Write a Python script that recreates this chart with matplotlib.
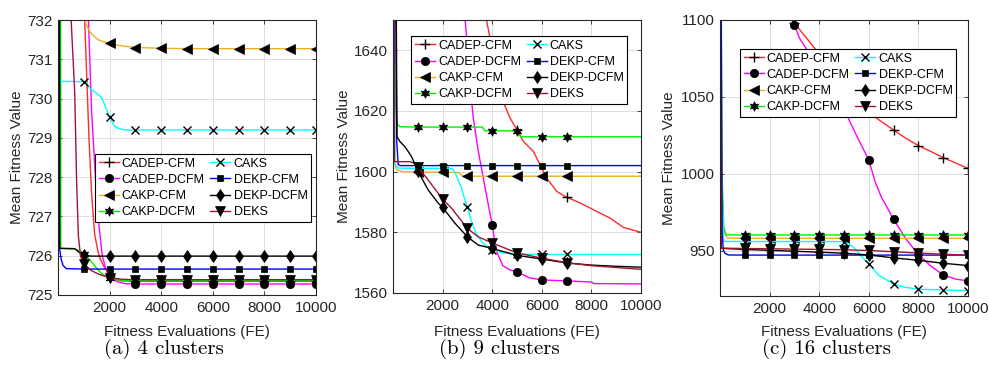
import matplotlib
matplotlib.use('Agg')
import matplotlib.pyplot as plt
from matplotlib.lines import Line2D

plt.rcParams['font.family'] = ['Liberation Sans', 'DejaVu Sans']

# ---------------- data ----------------
SERIES = ['CADEP-CFM', 'CADEP-DCFM', 'CAKP-CFM', 'CAKP-DCFM',
          'CAKS', 'DEKP-CFM', 'DEKP-DCFM', 'DEKS']
X_TICKS = [2000, 4000, 6000, 8000, 10000]
CAPTIONS = ['(a) 4 clusters', '(b) 9 clusters', '(c) 16 clusters']
MARK_MAX = [10000, 7000, 10000]

# ---- (a) 4 clusters ----
A_CADEP_CFM_X = [0, 900, 1000, 1034, 1100, 1200, 1300, 1420, 1550, 1650, 1800, 2000, 2200, 2500, 3000, 4000, 5000, 6000, 7000, 8000, 9000, 10000]
A_CADEP_CFM_Y = [760, 735, 732.5, 732.0, 730.8, 729.0, 727.6, 726.55, 726.1, 725.9, 725.7, 725.5, 725.4, 725.36, 725.35, 725.35, 725.35, 725.35, 725.35, 725.35, 725.35, 725.35]
A_CADEP_DCFM_X = [0, 1000, 1100, 1180, 1300, 1450, 1590, 1720, 1850, 1940, 2000, 2100, 2300, 2600, 3000, 4000, 5000, 6000, 7000, 8000, 9000, 10000]
A_CADEP_DCFM_Y = [760, 736, 733.5, 732.0, 729.7, 728.0, 726.75, 725.98, 725.68, 725.53, 725.48, 725.42, 725.34, 725.29, 725.28, 725.28, 725.28, 725.28, 725.28, 725.28, 725.28, 725.28]
A_CAKP_CFM_X = [0, 900, 1000, 1040, 1100, 1227, 1400, 1550, 1750, 2000, 2300, 2600, 3000, 4000, 5000, 6000, 7000, 8000, 9000, 10000]
A_CAKP_CFM_Y = [760, 735, 732.3, 732.0, 731.88, 731.71, 731.58, 731.5, 731.45, 731.41, 731.36, 731.33, 731.3, 731.28, 731.27, 731.27, 731.27, 731.27, 731.27, 731.27]
A_CAKP_DCFM_X = [0, 95, 110, 650, 904, 1000, 1100, 1292, 1500, 1680, 1900, 2000, 2300, 2600, 3000, 4000, 5000, 6000, 7000, 8000, 9000, 10000]
A_CAKP_DCFM_Y = [760, 740, 726.18, 726.17, 726.1, 726.05, 725.97, 725.85, 725.68, 725.55, 725.46, 725.43, 725.39, 725.37, 725.37, 725.37, 725.37, 725.37, 725.37, 725.37, 725.37, 725.37]
A_CAKS_X = [0, 20, 30, 1000, 1100, 1240, 1400, 1500, 1690, 1890, 2000, 2210, 2450, 2660, 3000, 4000, 5000, 6000, 7000, 8000, 9000, 10000]
A_CAKS_Y = [760, 745, 730.44, 730.43, 730.4, 730.26, 730.18, 730.13, 730.03, 729.71, 729.52, 729.28, 729.22, 729.2, 729.2, 729.2, 729.2, 729.2, 729.2, 729.2, 729.2, 729.2]
A_DEKP_CFM_X = [0, 35, 40, 130, 200, 325, 1000, 2000, 3000, 4000, 5000, 6000, 7000, 8000, 9000, 10000]
A_DEKP_CFM_Y = [760, 740, 726.25, 725.89, 725.75, 725.67, 725.66, 725.66, 725.66, 725.66, 725.66, 725.66, 725.66, 725.66, 725.66, 725.66]
A_DEKP_DCFM_X = [0, 55, 65, 646, 850, 1000, 1150, 1300, 2000, 3000, 4000, 5000, 6000, 7000, 8000, 9000, 10000]
A_DEKP_DCFM_Y = [760, 740, 726.19, 726.18, 726.07, 726.02, 726.0, 725.99, 725.99, 725.99, 725.99, 725.99, 725.99, 725.99, 725.99, 725.99, 725.99]
A_DEKS_X = [0, 400, 510, 648, 725, 790, 870, 1000, 1290, 1620, 2000, 2500, 3000, 4000, 5000, 6000, 7000, 8000, 9000, 10000]
A_DEKS_Y = [760, 734, 732.0, 730.15, 727.8, 726.5, 726.0, 725.8, 725.62, 725.52, 725.44, 725.4, 725.39, 725.39, 725.39, 725.39, 725.39, 725.39, 725.39, 725.39]

# ---- (b) 9 clusters ----
B_CADEP_CFM_X = [0, 1000, 2000, 3000, 3700, 3911, 4000, 4113, 4382, 4718, 5000, 5255, 5657, 5927, 6196, 6600, 7000, 7540, 8000, 8212, 8750, 9295, 10000]
B_CADEP_CFM_Y = [1900, 1800, 1730, 1685, 1653, 1644, 1640, 1634.1, 1624.3, 1617.7, 1613.8, 1610, 1606.7, 1602.3, 1597.9, 1593.5, 1591.6, 1589.7, 1587.8, 1586.9, 1584.7, 1581.6, 1580.0]
B_CADEP_DCFM_X = [0, 1000, 2000, 2903, 3000, 3105, 3238, 3440, 3641, 3843, 4000, 4161, 4431, 4720, 5000, 5500, 6000, 7000, 8000, 8100, 10000]
B_CADEP_DCFM_Y = [1900, 1800, 1720, 1650.6, 1641, 1628.6, 1617.7, 1606.7, 1597.9, 1589.1, 1582.5, 1574, 1569, 1567.6, 1567.0, 1565.0, 1564.3, 1564.0, 1563.6, 1563.1, 1563.0]
B_CAKP_CFM_X = [0, 20, 40, 150, 400, 1000, 2000, 2650, 2800, 3000, 4000, 5000, 6000, 7000, 8000, 9000, 10000]
B_CAKP_CFM_Y = [1900, 1640, 1603, 1600.6, 1600.0, 1599.9, 1599.8, 1599.7, 1598.6, 1598.5, 1598.5, 1598.5, 1598.5, 1598.5, 1598.5, 1598.5, 1598.5]
B_CAKP_DCFM_X = [0, 60, 100, 180, 300, 1000, 2000, 3000, 3600, 3700, 4000, 5000, 5050, 5150, 6000, 7000, 8000, 9000, 10000]
B_CAKP_DCFM_Y = [1900, 1650, 1622, 1615.5, 1614.8, 1614.7, 1614.7, 1614.7, 1614.7, 1613.5, 1613.5, 1613.4, 1612.5, 1611.5, 1611.5, 1611.5, 1611.5, 1611.5, 1611.5]
B_CAKS_X = [0, 40, 80, 200, 1000, 2000, 2405, 2513, 2743, 2945, 3000, 3148, 3351, 3620, 4000, 4431, 4971, 5000, 6000, 7000, 8000, 9000, 10000]
B_CAKS_Y = [1900, 1700, 1602.5, 1601.2, 1601.1, 1601.1, 1601.0, 1599.5, 1595, 1589.6, 1588.5, 1584, 1579.7, 1576.4, 1574.3, 1573.2, 1572.8, 1572.8, 1572.7, 1572.7, 1572.7, 1572.7, 1572.7]
B_DEKP_CFM_X = [0, 110, 150, 210, 300, 1000, 2000, 3000, 4000, 5000, 6000, 7000, 8000, 9000, 10000]
B_DEKP_CFM_Y = [1900, 1660, 1610, 1602.3, 1602.0, 1602.0, 1602.0, 1602.0, 1602.0, 1602.0, 1602.0, 1602.0, 1602.0, 1602.0, 1602.0]
B_DEKP_DCFM_X = [0, 100, 160, 282, 484, 753, 1000, 1424, 1827, 2000, 2500, 3000, 3440, 4000, 5000, 6000, 7000, 8000, 9000, 10000]
B_DEKP_DCFM_Y = [1900, 1700, 1611.5, 1609.9, 1608.2, 1604.9, 1600.2, 1593.9, 1589.6, 1588.2, 1583, 1578.5, 1575.8, 1574.7, 1572.4, 1571.2, 1569.9, 1569.2, 1568.8, 1568.5]
B_DEKS_X = [0, 40, 60, 685, 887, 1000, 1424, 1827, 2000, 2366, 2634, 3000, 3440, 4000, 5000, 6000, 7000, 8000, 9000, 10000]
B_DEKS_Y = [1900, 1700, 1603.3, 1603.3, 1602.7, 1601.6, 1597.2, 1592.8, 1591.0, 1587.9, 1585.1, 1581.3, 1578.5, 1576.5, 1573.2, 1571.5, 1570.0, 1569.0, 1568.4, 1567.8]

# ---- (c) 16 clusters ----
C_CADEP_CFM_X = [0, 1000, 2000, 2900, 3000, 3500, 4000, 4500, 5000, 5500, 6000, 6500, 7000, 7500, 8000, 8500, 9000, 9500, 10000]
C_CADEP_CFM_Y = [1500, 1300, 1160, 1100, 1098, 1088, 1078, 1067, 1057, 1048, 1040, 1034, 1028.5, 1023, 1018.3, 1014.5, 1010.5, 1007, 1003.5]
C_CADEP_DCFM_X = [0, 1000, 2000, 2900, 3000, 3210, 3614, 4000, 4500, 5000, 5500, 6000, 6250, 6500, 7000, 7500, 8000, 8500, 9000, 9500, 10000]
C_CADEP_DCFM_Y = [1500, 1300, 1150, 1103, 1096.8, 1088, 1078, 1068, 1055, 1042, 1025, 1009, 995, 985, 970.4, 957.5, 947.5, 940, 934.2, 931.5, 930.3]
C_CAKP_CFM_X = [0, 20, 60, 150, 300, 1000, 2000, 3000, 4000, 5000, 6000, 7000, 8000, 9000, 10000]
C_CAKP_CFM_Y = [1500, 1200, 1000, 962, 958.2, 958.0, 958.0, 958.0, 958.0, 958.0, 958.0, 958.0, 958.0, 958.0, 958.0]
C_CAKP_DCFM_X = [0, 30, 80, 150, 250, 1000, 2000, 3000, 4000, 5000, 6000, 7000, 8000, 9000, 10000]
C_CAKP_DCFM_Y = [1500, 1200, 1000, 965, 960.3, 960.2, 960.2, 960.2, 960.2, 960.2, 960.2, 960.2, 960.2, 960.2, 960.2]
C_CAKS_X = [0, 15, 60, 150, 1000, 2000, 3000, 4000, 5000, 5200, 5430, 5780, 6000, 6385, 7000, 7460, 8000, 9000, 10000]
C_CAKS_Y = [1500, 1200, 1000, 956, 955.9, 955.9, 955.9, 955.9, 955.8, 954.5, 951.5, 945, 941.5, 934.2, 928.2, 926.2, 924.9, 924.4, 924.0]
C_DEKP_CFM_X = [0, 50, 90, 133, 200, 334, 1000, 2000, 3000, 4000, 5000, 6000, 7000, 8000, 9000, 10000]
C_DEKP_CFM_Y = [1500, 1100, 960, 950.5, 948.3, 947.2, 947.1, 947.1, 947.1, 947.1, 947.1, 947.1, 947.1, 947.1, 947.1, 947.1]
C_DEKP_DCFM_X = [0, 20, 50, 1000, 2000, 3000, 4000, 5000, 6000, 7000, 8000, 9000, 10000]
C_DEKP_DCFM_Y = [1500, 1100, 951.5, 950.8, 950.2, 949.6, 949.0, 948.3, 947.2, 945.3, 943.7, 941.8, 940.3]
C_DEKS_X = [0, 15, 40, 1000, 2000, 3000, 4000, 5000, 6000, 7000, 8000, 9000, 10000]
C_DEKS_Y = [1500, 1100, 951.6, 951.4, 951.2, 951.0, 950.8, 950.6, 950.1, 949.3, 948.4, 947.7, 947.0]

A_YTICKS = [725, 726, 727, 728, 729, 730, 731, 732]
B_YTICKS = [1560, 1580, 1600, 1620, 1640]
C_YTICKS = [950, 1000, 1050, 1100]

# ---------------- style ----------------
COLORS = ['#FF2A2A', '#FF00FF', '#EDB120', '#00EE00', '#00FFFF', '#0000FF', '#000000', '#A2142F']
MARKERS = ['+', 'o', '<', (6, 1, 0), 'x', 's', 'd', 'v']
MSIZES = [7, 6, 7, 7, 5.5, 5, 6, 6.5]
AX_COL = '#262626'

W, H = 990, 365
panels = [
    dict(xs=[A_CADEP_CFM_X, A_CADEP_DCFM_X, A_CAKP_CFM_X, A_CAKP_DCFM_X, A_CAKS_X, A_DEKP_CFM_X, A_DEKP_DCFM_X, A_DEKS_X],
         ys=[A_CADEP_CFM_Y, A_CADEP_DCFM_Y, A_CAKP_CFM_Y, A_CAKP_DCFM_Y, A_CAKS_Y, A_DEKP_CFM_Y, A_DEKP_DCFM_Y, A_DEKS_Y],
         ylim=(725, 732), yticks=A_YTICKS, px=(58, 20, 316, 295), leg=(0.143, 0.513), ylx=-0.13, cap=164),
    dict(xs=[B_CADEP_CFM_X, B_CADEP_DCFM_X, B_CAKP_CFM_X, B_CAKP_DCFM_X, B_CAKS_X, B_DEKP_CFM_X, B_DEKP_DCFM_X, B_DEKS_X],
         ys=[B_CADEP_CFM_Y, B_CADEP_DCFM_Y, B_CAKP_CFM_Y, B_CAKP_DCFM_Y, B_CAKS_Y, B_DEKP_CFM_Y, B_DEKP_DCFM_Y, B_DEKS_Y],
         ylim=(1560, 1650), yticks=B_YTICKS, px=(393, 20, 641, 293), leg=(0.0726, 0.941), ylx=-0.171, cap=499),
    dict(xs=[C_CADEP_CFM_X, C_CADEP_DCFM_X, C_CAKP_CFM_X, C_CAKP_DCFM_X, C_CAKS_X, C_DEKP_CFM_X, C_DEKP_DCFM_X, C_DEKS_X],
         ys=[C_CADEP_CFM_Y, C_CADEP_DCFM_Y, C_CAKP_CFM_Y, C_CAKP_DCFM_Y, C_CAKS_Y, C_DEKP_CFM_Y, C_DEKP_DCFM_Y, C_DEKS_Y],
         ylim=(920.5, 1100), yticks=C_YTICKS, px=(720, 20, 968, 296), leg=(0.0806, 0.895), ylx=-0.179, cap=826),
]

fig = plt.figure(figsize=(W / 100, H / 100), dpi=100)

for k, p in enumerate(panels):
    x0, y0, x1, y1 = p['px']
    ax = fig.add_axes([x0 / W, 1 - y1 / H, (x1 - x0) / W, (y1 - y0) / H])
    for xs, ys, c, m, ms in zip(p['xs'], p['ys'], COLORS, MARKERS, MSIZES):
        idx = [i for i, xv in enumerate(xs) if 1000 <= xv <= MARK_MAX[k] and xv % 1000 == 0]
        thin = m in ('+', 'x')
        ax.plot(xs, ys, color=c, lw=1.0, marker=m, ms=ms, markevery=idx,
                mfc='black', mec='black', mew=1.0 if thin else 0.5)
    ax.set_xlim(0, 10000)
    ax.set_ylim(*p['ylim'])
    ax.set_xticks(X_TICKS)
    ax.set_yticks(p['yticks'])
    ax.grid(True, color='#DFDFDF', lw=0.7)
    ax.set_axisbelow(True)
    for s in ax.spines.values():
        s.set_color(AX_COL)
        s.set_linewidth(0.8)
    ax.tick_params(direction='in', length=3, width=0.6, color=AX_COL, labelcolor=AX_COL,
                   labelsize=11, pad=4, top=True, right=True)
    ax.set_ylabel('Mean Fitness Value', fontsize=11, color=AX_COL)
    ax.yaxis.set_label_coords(p['ylx'], 0.5)
    ax.set_xlabel('Fitness Evaluations (FE)', fontsize=11, color=AX_COL)
    ax.xaxis.set_label_coords(0.5, -(325 - y1) / (y1 - y0))

    handles = [Line2D([], [], color=c, lw=1.0, marker=m, ms=ms, mfc='black', mec='black',
                      mew=1.0 if m in ('+', 'x') else 0.5)
               for c, m, ms in zip(COLORS, MARKERS, MSIZES)]
    leg = ax.legend(handles, SERIES, ncol=2, loc='upper left', bbox_to_anchor=p['leg'],
                    fontsize=9, frameon=True, fancybox=False, edgecolor='black', framealpha=1,
                    borderpad=0.3, labelspacing=0.33, handlelength=1.6, handletextpad=0.25,
                    columnspacing=0.45, borderaxespad=0)
    leg.get_frame().set_linewidth(0.8)

    fig.text(p['cap'] / W, 1 - 349 / H, CAPTIONS[k], ha='center', va='center',
             fontsize=15, family='cmr10', color='black')

fig.savefig('out.png', dpi=100)
